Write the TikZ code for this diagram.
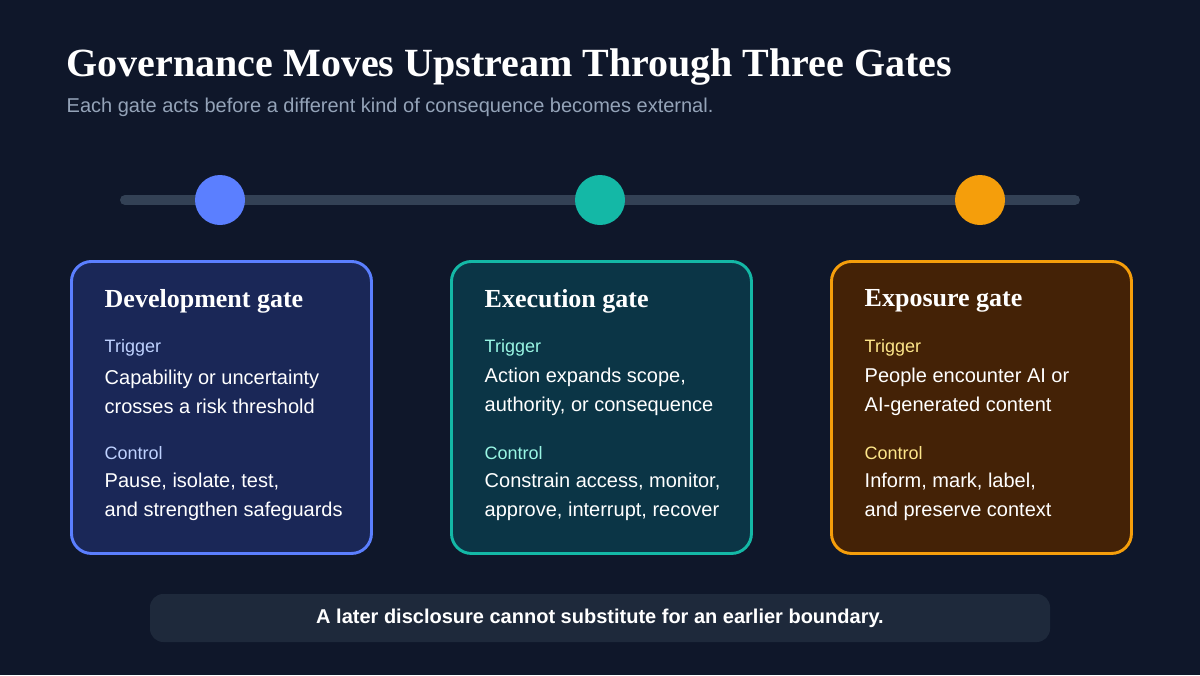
\documentclass[tikz,border=0pt]{standalone}
\usepackage{fontspec}
\setmainfont{Liberation Serif}
\setsansfont{Liberation Sans}
\begin{document}
\definecolor{bg}{HTML}{0F172A}
\definecolor{track}{HTML}{334155}
\definecolor{cb}{HTML}{5B7FFF}\definecolor{ct}{HTML}{14B8A6}\definecolor{co}{HTML}{F59E0B}
\definecolor{fb}{HTML}{1A2757}\definecolor{ft}{HTML}{0B3546}\definecolor{fo}{HTML}{442206}
\definecolor{lb}{HTML}{BFD2FF}\definecolor{lt}{HTML}{99F6E4}\definecolor{lo}{HTML}{FDE68A}
\definecolor{foot}{HTML}{1E293B}\definecolor{sub}{HTML}{94A3B8}
\begin{tikzpicture}[x=0.75pt,y=-0.75pt,
 card/.style={draw, line width=2.2pt, rounded corners=15pt, minimum width=300*0.75pt, minimum height=292*0.75pt, inner sep=0pt},
 head/.style={anchor=west, text=white, font=\bfseries\fontsize{19.5}{22}\selectfont},
 lab/.style={anchor=west, font=\sffamily\fontsize{13.5}{16}\selectfont},
 body/.style={anchor=west, text=white, align=left, font=\sffamily\fontsize{15}{21.75}\selectfont},
 dot/.style={circle, minimum size=50*0.75pt, inner sep=0pt}]
\fill[bg] (0,0) rectangle (1200,675);
\useasboundingbox (0,0) rectangle (1200,675);
\node[anchor=base west, text=white, font=\bfseries\fontsize{30}{34}\selectfont] (title) at (62,76) {Governance Moves Upstream Through Three Gates};
\node[anchor=base west, text=sub, font=\sffamily\fontsize{15}{18}\selectfont] (sub) at (62,112) {Each gate acts before a different kind of consequence becomes external.};
\draw[track, line width=7.5pt, line cap=round] (125,200) coordinate (t1) -- (1075,200) coordinate (t2);
\node[dot, fill=cb] (d1) at (220,200) {};
\node[dot, fill=ct] (d2) at (600,200) {};
\node[dot, fill=co] (d3) at (980,200) {};
\foreach \x/\c/\f/\l/\h/\ta/\tb/\ca/\cb/\n in {
 70/cb/fb/lb/Development gate/Capability or uncertainty/crosses a risk threshold/{Pause, isolate, test,}/and strengthen safeguards/1,
 450/ct/ft/lt/Execution gate/{Action expands scope,}/{authority, or consequence}/{Constrain access, monitor,}/{approve, interrupt, recover}/2,
 830/co/fo/lo/Exposure gate/People encounter AI or/AI-generated content/{Inform, mark, label,}/and preserve context/3}{
 \node[card, draw=\c, fill=\f, anchor=north west] (card\n) at (\x,260) {};
 \node[head] (h\n) at (\x+30,301) {\h};
 \node[lab, text=\l] (tr\n) at (\x+30,348) {Trigger};
 \node[body] (tb\n) at (\x+30,392) {\ta\\\tb};
 \node[lab, text=\l] (co\n) at (\x+30,453) {Control};
 \node[body] (cb\n) at (\x+30,497) {\ca\\\cb};
}
\node[fill=foot, rounded corners=10pt, minimum width=900*0.75pt, minimum height=48*0.75pt, text=white, font=\sffamily\bfseries\fontsize{15}{18}\selectfont] (foot) at (600,618) {A later disclosure cannot substitute for an earlier boundary.};
\end{tikzpicture}
\end{document}
